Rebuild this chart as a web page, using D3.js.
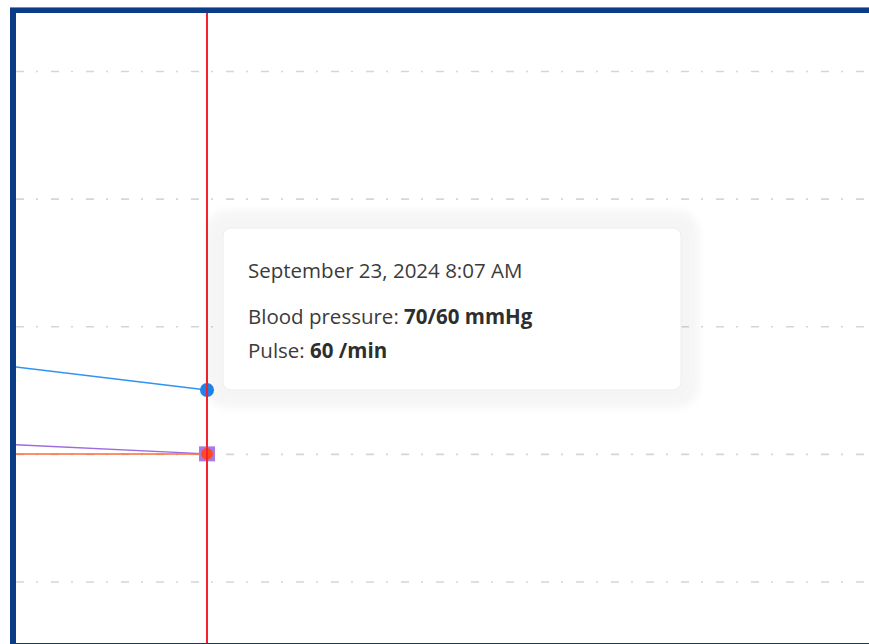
<!DOCTYPE html>
<html>
<head>
<meta charset="utf-8">
<script src="https://cdn.jsdelivr.net/npm/d3@7"></script>
<style>
  html, body { margin: 0; padding: 0; background: #fff; }
  svg { display: block; }
</style>
</head>
<body>
<svg id="chart" width="869" height="644"></svg>
<script>
// ---- data ----
const times = ["2024-09-22T20:00", "2024-09-23T08:07"];
const systolic = [80, 70];
const diastolic = [64, 60];
const pulse = [60, 60];
const yTicks = [40, 60, 80, 100, 120];
const xDomain = ["2024-09-23T03:45", "2024-09-23T23:15"];
const selectedIndex = 1;
const tooltipTitle = "September 23, 2024 8:07 AM";
const tooltipRows = [["Blood pressure: ", "70/60 mmHg"], ["Pulse: ", "60 /min"]];

const parse = d3.timeParse("%Y-%m-%dT%H:%M");
const W = 869, H = 644;
const svg = d3.select("#chart");

const x = d3.scaleTime().domain(xDomain.map(parse)).range([16, 869]);
const y = d3.scaleLinear().domain([40, 120]).range([581.5, 71]);

const defs = svg.append("defs");
defs.append("clipPath").attr("id", "plot").append("rect")
  .attr("x", 16).attr("y", 13).attr("width", W - 16).attr("height", H - 13);
const blur = defs.append("filter").attr("id", "halo")
  .attr("x", "-20%").attr("y", "-40%").attr("width", "140%").attr("height", "180%");
blur.append("feGaussianBlur").attr("stdDeviation", 4);

const plot = svg.append("g").attr("clip-path", "url(#plot)");

// gridlines
const grid = plot.append("g").attr("transform", "translate(16,0)")
  .call(d3.axisLeft(y).tickValues(yTicks).tickSize(-(W - 16)).tickFormat(""));
grid.select(".domain").remove();
grid.selectAll(".tick line")
  .attr("stroke", "#d6d6d6").attr("stroke-width", 1.6)
  .attr("stroke-dasharray", "8 12 2 13");

const pts = times.map((t, i) => ({ t: parse(t), s: systolic[i], d: diastolic[i], p: pulse[i] }));
const line = key => d3.line().x(d => x(d.t)).y(d => y(d[key]));

plot.append("path").datum(pts).attr("d", line("s"))
  .attr("fill", "none").attr("stroke", "#2f93f5").attr("stroke-width", 1.5);
plot.append("path").datum(pts).attr("d", line("d"))
  .attr("fill", "none").attr("stroke", "#9c6be0").attr("stroke-width", 1.5);
plot.append("path").datum(pts).attr("d", line("p"))
  .attr("fill", "none").attr("stroke", "#ff6a3a").attr("stroke-width", 1.5);

const sel = pts[selectedIndex];
const sx = x(sel.t);
plot.append("circle").attr("cx", sx).attr("cy", y(sel.s)).attr("r", 7).attr("fill", "#1f86f0");
plot.append("rect").attr("x", sx - 8).attr("y", y(sel.d) - 7.5).attr("width", 16).attr("height", 15)
  .attr("fill", "#a77ae6");
plot.append("circle").attr("cx", sx).attr("cy", y(sel.p)).attr("r", 6).attr("fill", "#ff4a22");

// selection line
plot.append("line").attr("x1", sx).attr("x2", sx).attr("y1", 13).attr("y2", H)
  .attr("stroke", "#f5222d").attr("stroke-width", 2);

// tooltip
const tx = 223, ty = 228, tw = 458, th = 162;
const tip = svg.append("g");
tip.append("rect").attr("x", tx - 18).attr("y", ty - 18).attr("width", tw + 36).attr("height", th + 36)
  .attr("rx", 22).attr("fill", "#000").attr("opacity", 0.035).attr("filter", "url(#halo)");
tip.append("rect").attr("x", tx).attr("y", ty).attr("width", tw).attr("height", th)
  .attr("rx", 8).attr("fill", "#fff").attr("stroke", "#eeeeee").attr("stroke-width", 1);
const font = "'Open Sans', sans-serif";
const fs = 20.5;
tip.append("text").attr("x", tx + 25).attr("y", ty + 49.5)
  .attr("font-family", font).attr("font-size", fs).attr("fill", "#3b3b3b").text(tooltipTitle);
tooltipRows.forEach((r, i) => {
  const t = tip.append("text").attr("x", tx + 25).attr("y", ty + 96 + i * 33.7)
    .attr("font-family", font).attr("font-size", fs).attr("fill", "#3b3b3b");
  t.append("tspan").text(r[0]);
  t.append("tspan").attr("font-weight", "bold").attr("fill", "#2e2e2e").text(r[1]);
});

// frame
svg.append("rect").attr("x", 13).attr("y", 10).attr("width", 1000).attr("height", 636)
  .attr("fill", "none").attr("stroke", "#0b3c87").attr("stroke-width", 6);
svg.append("line").attr("x1", 10).attr("x2", W).attr("y1", 7.5).attr("y2", 7.5)
  .attr("stroke", "#6f8fc4").attr("stroke-width", 1);
</script>
</body>
</html>
